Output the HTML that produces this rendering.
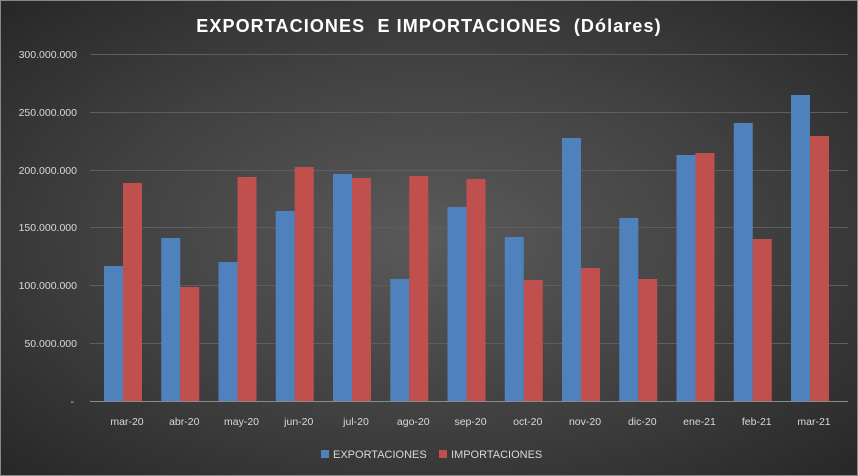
<!DOCTYPE html>
<html><head><meta charset="utf-8"><style>
html,body{margin:0;padding:0;}
body{width:858px;height:476px;overflow:hidden;font-family:"Liberation Sans",sans-serif;}
.bg{position:absolute;left:0;top:0;width:858px;height:476px;background:radial-gradient(ellipse at 50% 50%,#5a5a5a 0%,#404040 55%,#272727 100%);border:1px solid #888;box-sizing:border-box;}
</style></head><body>
<div class="bg"></div>
<svg width="858" height="476" style="position:absolute;left:0;top:0" font-family="Liberation Sans, sans-serif">
<text x="429" y="32" fill="#fff" font-size="18" font-weight="bold" text-anchor="middle" letter-spacing="1.1">EXPORTACIONES&#160; E IMPORTACIONES&#160; (Dólares)</text>
<g stroke="#5e5e5e" stroke-width="1">
<line x1="90" x2="848" y1="54.5" y2="54.5"/><line x1="90" x2="848" y1="112.5" y2="112.5"/><line x1="90" x2="848" y1="170.5" y2="170.5"/><line x1="90" x2="848" y1="227.5" y2="227.5"/><line x1="90" x2="848" y1="285.5" y2="285.5"/><line x1="90" x2="848" y1="343.5" y2="343.5"/>
</g>
<line x1="90" x2="848" y1="401.5" y2="401.5" stroke="#8a8a8a"/>
<g fill="#d9d9d9" font-size="10.5" text-anchor="end">
<text x="77" y="58">300.000.000</text><text x="77" y="116">250.000.000</text><text x="77" y="174">200.000.000</text><text x="77" y="231">150.000.000</text><text x="77" y="289">100.000.000</text><text x="77" y="347">50.000.000</text><text x="74" y="405">-</text>
</g>
<g id="bars"></g>
<g fill="#d9d9d9" font-size="10.5" text-anchor="middle" id="lbl"></g>
<rect x="321" y="450" width="8" height="8" fill="#4f81bd"/><text x="333" y="458" fill="#d9d9d9" font-size="11">EXPORTACIONES</text>
<rect x="439" y="450" width="8" height="8" fill="#c0504d"/><text x="451" y="458" fill="#d9d9d9" font-size="11">IMPORTACIONES</text>
</svg>
<script>
var L=["mar-20","abr-20","may-20","jun-20","jul-20","ago-20","sep-20","oct-20","nov-20","dic-20","ene-21","feb-21","mar-21"];
var B=[266,238,262,211,174,279,207,237,138,218,155,123,95];
var R=[183,287,177,167,178,176,179,280,268,279,153,239,136];
var g=document.getElementById("bars"),l=document.getElementById("lbl"),ns="http://www.w3.org/2000/svg",h="";
for(var i=0;i<13;i++){var c=123+i*57.25;
h+='<rect x="'+(c-19)+'" y="'+B[i]+'" width="19" height="'+(401-B[i])+'" fill="#4f81bd"/>';
h+='<rect x="'+c+'" y="'+R[i]+'" width="19" height="'+(401-R[i])+'" fill="#c0504d"/>';
var t=document.createElementNS(ns,"text");t.setAttribute("x",c+4);t.setAttribute("y",425);t.textContent=L[i];l.appendChild(t);}
g.innerHTML=h;
</script>
</body></html>
